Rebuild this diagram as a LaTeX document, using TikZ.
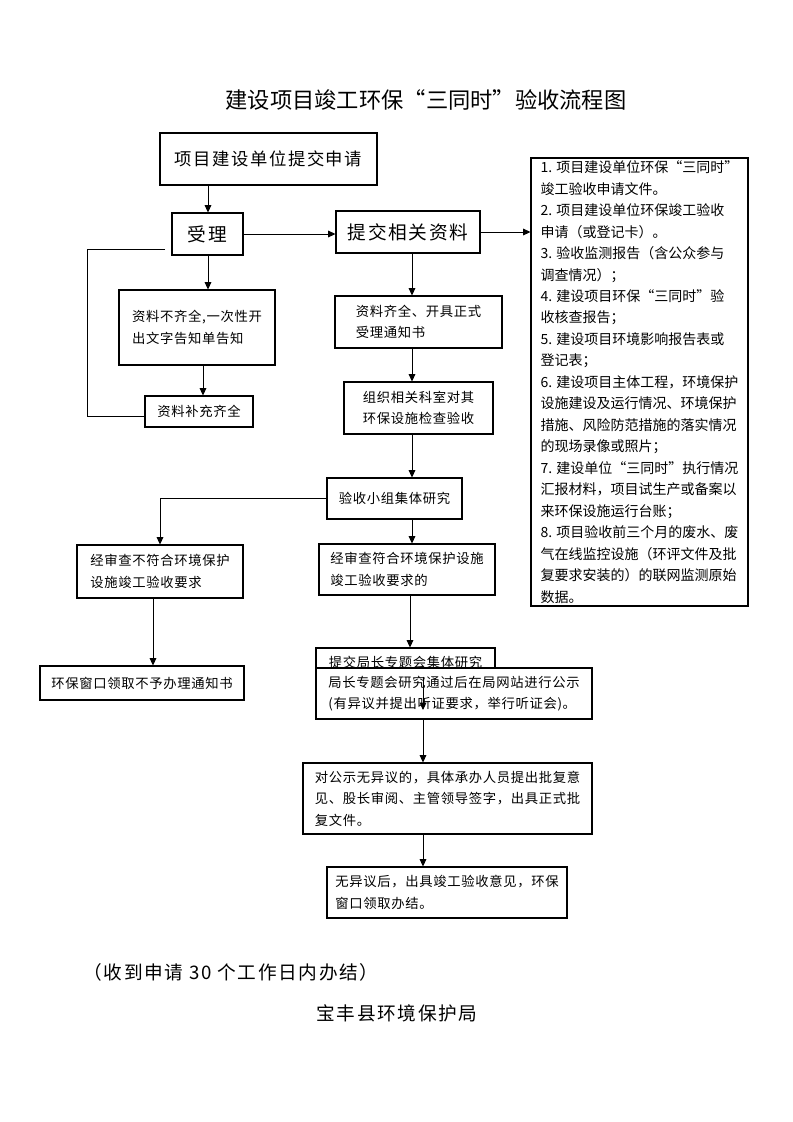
\documentclass[tikz,border=0pt]{standalone}
\usepackage{fontspec}
\setmainfont{Noto Sans CJK SC}
\newfontfamily\cjkspaced[LetterSpace=5]{Noto Sans CJK SC}
\newfontfamily\cjkwide[LetterSpace=9]{Noto Sans CJK SC}
\usetikzlibrary{arrows.meta}

\begin{document}
\begin{tikzpicture}[
        x=0.75pt, y=-0.75pt, line width=0.75pt,
        box/.style={draw, line width=0.8pt, fill=white, inner sep=0pt, align=left,
            font=\cjkspaced\fontsize{10}{16.1}\selectfont},
        bigbox/.style={box, align=center, font=\cjkwide\fontsize{14}{16}\selectfont},
        >={Triangle[length=5.5pt,width=5pt]}]
        \useasboundingbox (0,0) rectangle (793,1122);
        \node[font=\fontsize{16.7}{20}\selectfont] (title) at (426,100) {建设项目竣工环保“三同时”验收流程图};
        \node[bigbox, font=\cjkwide\fontsize{13}{16}\selectfont, minimum width=162.75pt, minimum height=39pt] (apply) at (268.5,159) {项目建设单位提交申请};
        \node[bigbox, minimum width=53.25pt, minimum height=31.5pt] (accept) at (207.5,234) {受理};
        \node[bigbox, minimum width=108pt, minimum height=31.5pt] (submit) at (408,232) {提交相关资料};
        \node[box, font=\fontsize{10.5}{16.1}\selectfont, minimum width=162.75pt, minimum height=336pt] (docs) at (639.5,382) {1. 项目建设单位环保“三同时”\\竣工验收申请文件。\\2. 项目建设单位环保竣工验收\\申请（或登记卡）。\\3. 验收监测报告（含公众参与\\调查情况）；\\4. 建设项目环保“三同时”验\\收核查报告；\\5. 建设项目环境影响报告表或\\登记表；\\6. 建设项目主体工程，环境保护\\设施建设及运行情况、环境保护\\措施、风险防范措施的落实情况\\的现场录像或照片；\\7. 建设单位“三同时”执行情况\\汇报材料，项目试生产或备案以\\来环保设施运行台账；\\8. 项目验收前三个月的废水、废\\气在线监控设施（环评文件及批\\复要求安装的）的联网监测原始\\数据。};
        \node[box, minimum width=117pt, minimum height=56.25pt] (lack) at (197,327.5) {资料不齐全,一次性开\\出文字告知单告知};
        \node[box, minimum width=81pt, minimum height=23.25pt] (refill) at (199,411.5) {资料补充齐全};
        \node[box, minimum width=125.25pt, minimum height=39pt] (complete) at (418.5,322) {资料齐全、开具正式\\受理通知书};
        \node[box, minimum width=111.75pt, minimum height=39pt] (organize) at (418.5,408) {组织相关科室对其\\环保设施检查验收};
        \node[box, minimum width=101.25pt, minimum height=30.75pt] (group) at (394.5,498.5) {验收小组集体研究};
        \node[box, minimum width=124.5pt, minimum height=39.75pt] (reject) at (160,571.5) {经审查不符合环境保护\\设施竣工验收要求};
        \node[box, minimum width=153pt, minimum height=25.5pt] (refuse) at (142,683) {环保窗口领取不予办理通知书};
        \node[box, minimum width=132pt, minimum height=38.25pt] (pass) at (407,569.5) {经审查符合环境保护设施\\竣工验收要求的};
        \node[box, minimum width=134.25pt, minimum height=21pt] (brief) at (405.5,662) {提交局长专题会集体研究};
        \node[box, minimum width=207pt, minimum height=38.25pt] (chief) at (454,693.5) {局长专题会研究通过后在局网站进行公示\\(有异议并提出听证要求，举行听证会)。};
        \node[box, minimum width=216.75pt, minimum height=53.25pt] (publicity) at (447.5,798.5) {对公示无异议的，具体承办人员提出批复意\\见、股长审阅、主管领导签字，出具正式批\\复文件。};
        \node[box, minimum width=180pt, minimum height=38.25pt] (final) at (447,892.5) {无异议后，出具竣工验收意见，环保\\窗口领取办结。};
        \node[font=\cjkwide\fontsize{14}{16}\selectfont] (note) at (231,972) {（收到申请 30 个工作日内办结）};
        \node[font=\cjkwide\fontsize{14}{16}\selectfont] (agency) at (397,1013) {宝丰县环境保护局};

        \coordinate (colA) at (208,0);
        \coordinate (colL) at (203,0);
        \coordinate (colM) at (412,0);
        \coordinate (colB) at (410,0);
        \coordinate (colK) at (153,0);
        \coordinate (colR) at (423,0);
        \coordinate (loopTop) at (165,249);
        \coordinate (loopCorner) at (87,249);
        \coordinate (midTip) at (423,710);

        \draw[->] (apply.south -| colA) -- (accept.north -| colA);
        \draw[->] (accept.east) -- (accept.east -| submit.west);
        \draw[->] (submit.east) -- (submit.east -| docs.west);
        \draw[->] (accept.south -| colA) -- (lack.north -| colA);
        \draw[->] (lack.south -| colL) -- (refill.north -| colL);
        \draw (loopTop) -- (loopCorner) |- ([yshift=-4pt]refill.west);
        \draw[->] (submit.south -| colM) -- (complete.north -| colM);
        \draw[->] (complete.south -| colM) -- (organize.north -| colM);
        \draw[->] (organize.south -| colM) -- (group.north -| colM);
        \draw[->] (group.south -| colM) -- (pass.north -| colM);
        \draw[->] (group.west) -| (reject.north);
        \draw[->] (reject.south -| colK) -- (refuse.north -| colK);
        \draw[->] (pass.south -| colB) -- (brief.north -| colB);
        \draw[->] (brief.south -| colR) -- (midTip);
        \draw[->] (chief.south -| colR) -- (publicity.north -| colR);
        \draw[->] (publicity.south -| colR) -- (final.north -| colR);
    \end{tikzpicture}
\end{document}
